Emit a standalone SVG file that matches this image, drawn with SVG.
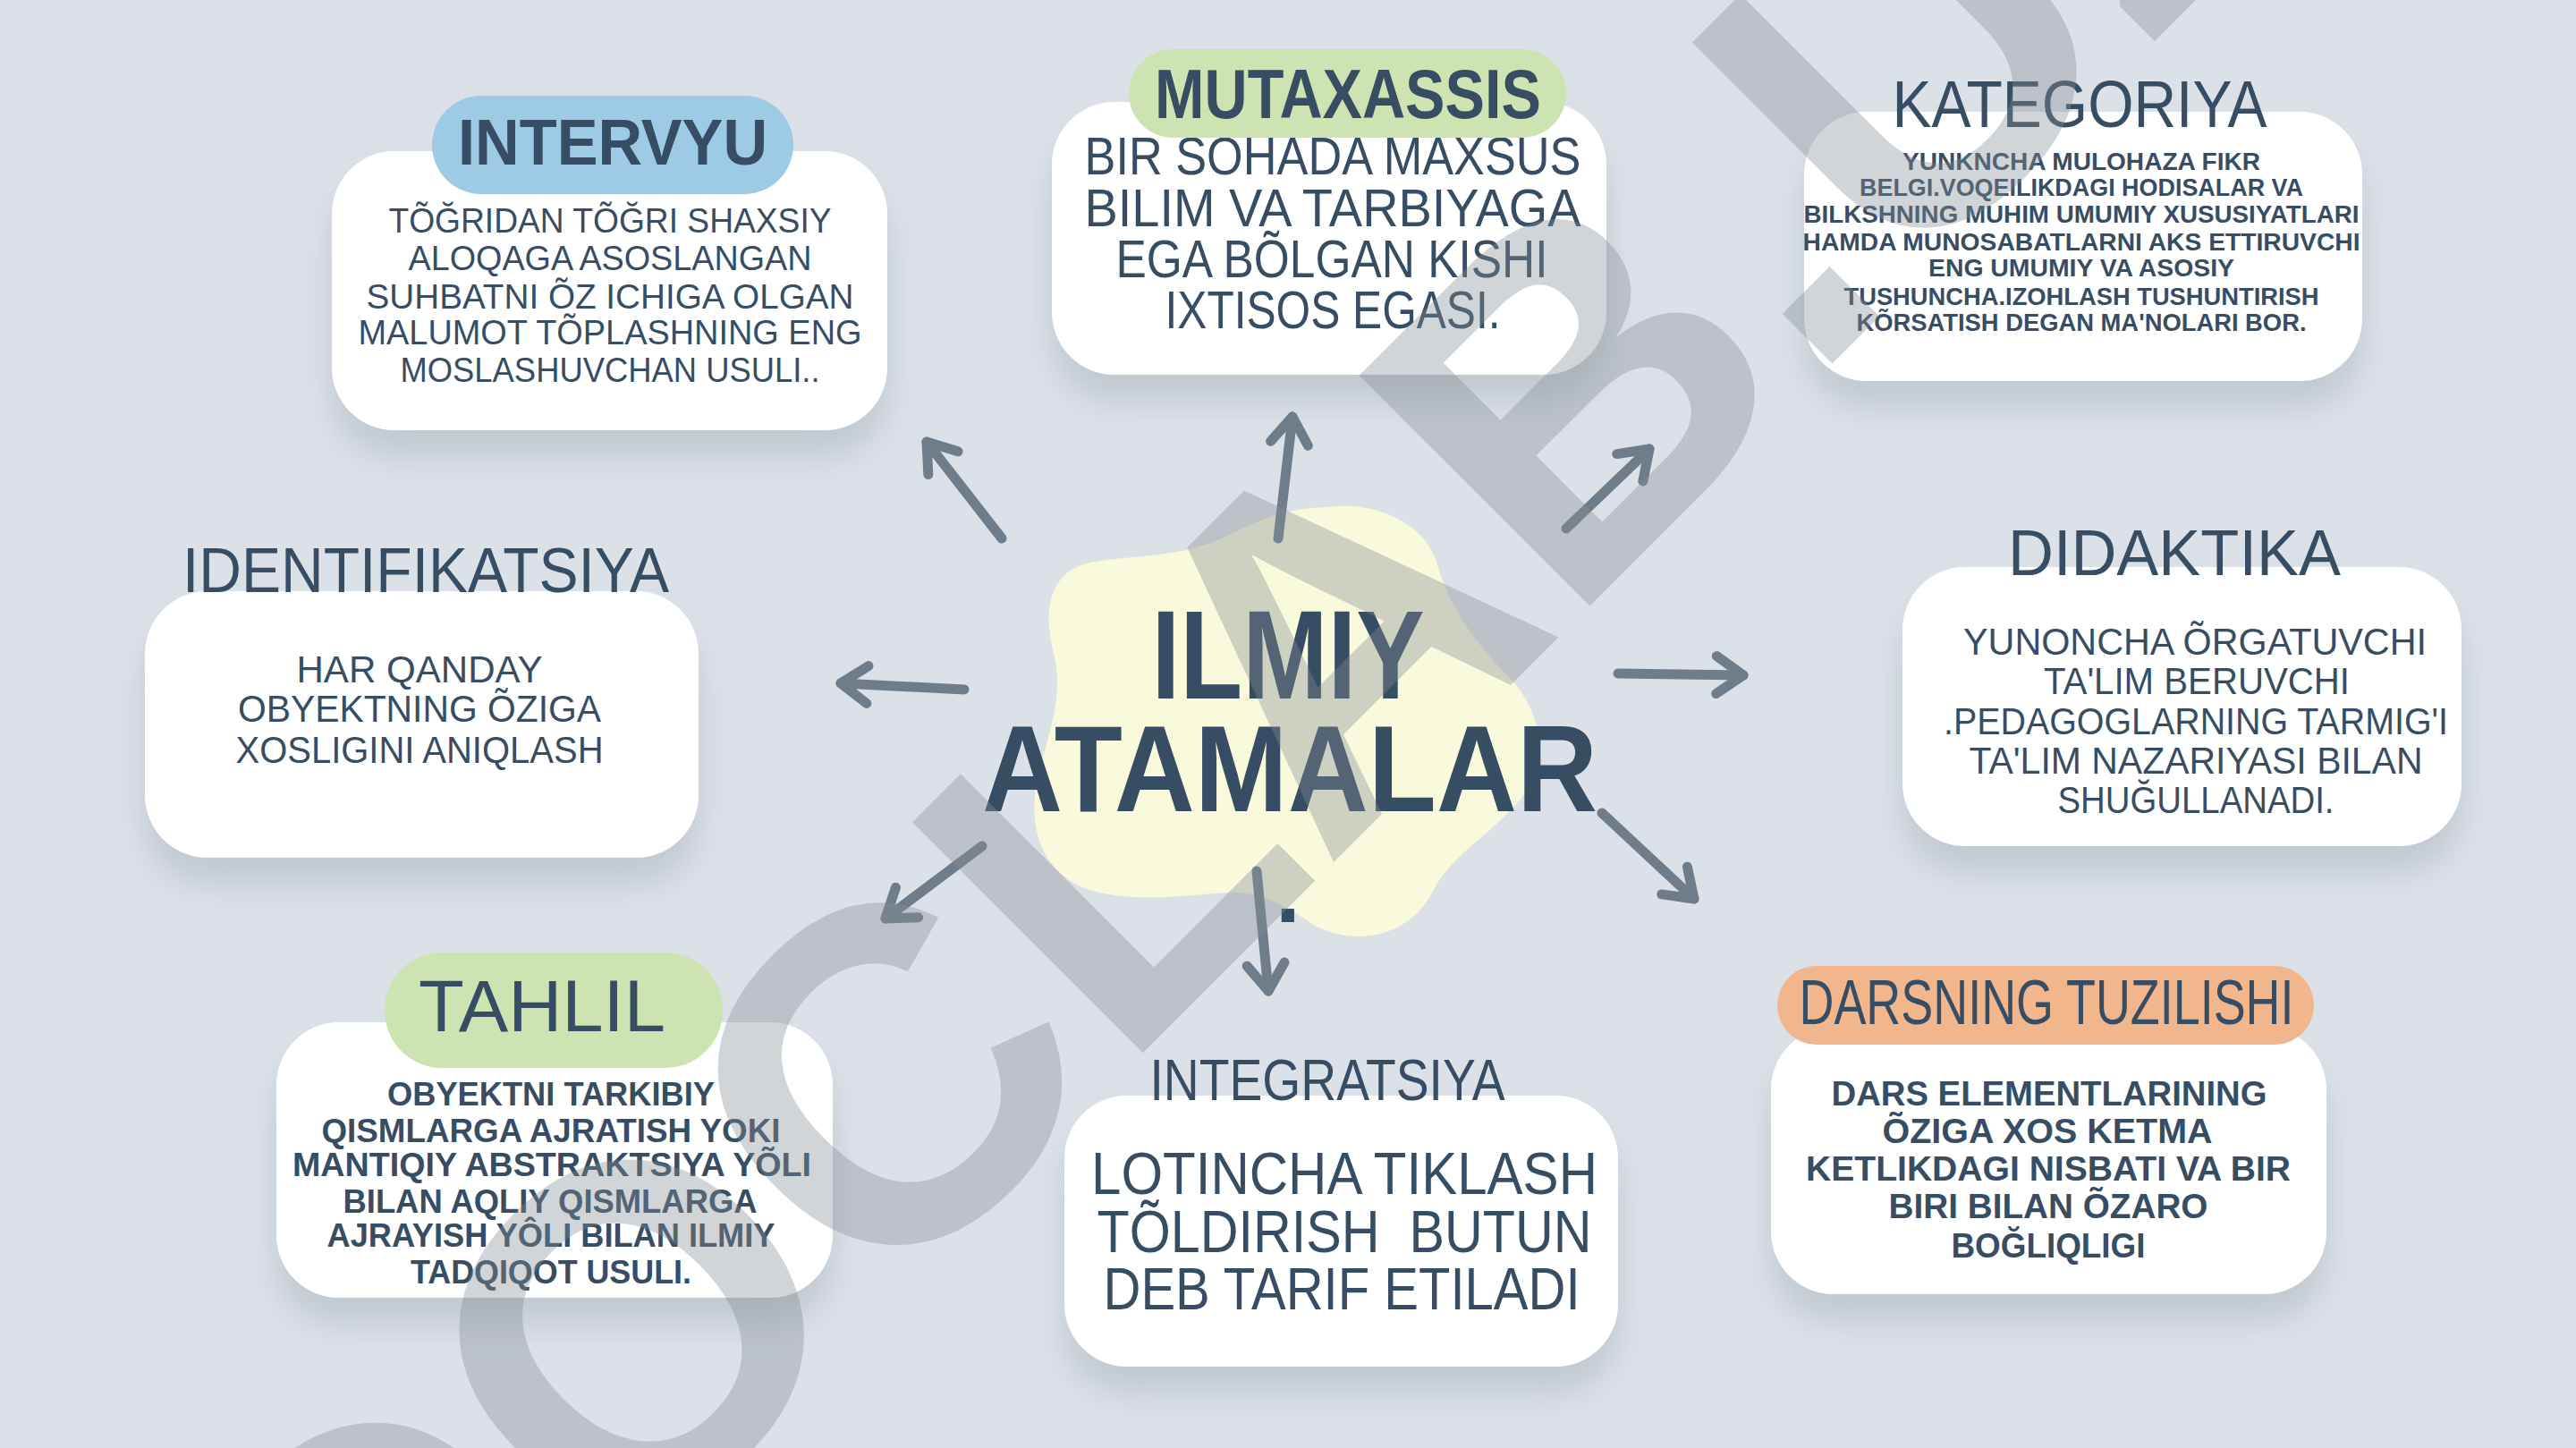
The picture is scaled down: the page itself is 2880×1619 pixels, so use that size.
<svg xmlns="http://www.w3.org/2000/svg" width="2880" height="1619" viewBox="0 0 2880 1619">
<defs>
<style>
.card{fill:#ffffff;filter:url(#sh)}
.t{font-family:"Liberation Sans",Arial,sans-serif;font-weight:normal;fill:#374d63;text-anchor:middle}
.b{font-family:"Liberation Sans",Arial,sans-serif;font-weight:bold;fill:#374d63;text-anchor:middle}
.arr{fill:none;stroke:#6f7d8b;stroke-width:11;stroke-linecap:round;marker-end:url(#ah)}
</style>
<filter id="sh" x="-20%" y="-20%" width="140%" height="170%">
<feDropShadow dx="0" dy="30" stdDeviation="18" flood-color="#7d8894" flood-opacity="0.28"/>
</filter>
<marker id="ah" viewBox="-40 -30 50 60" refX="0" refY="0" markerWidth="50" markerHeight="60" markerUnits="userSpaceOnUse" orient="auto" overflow="visible">
<path d="M-30,-21 L0,0 L-30,21" fill="none" stroke="#6f7d8b" stroke-width="11" stroke-linecap="round" stroke-linejoin="round"/>
</marker>
</defs>
<rect x="0" y="0" width="2880" height="1619" fill="#dce1e8"/>

<g id="center-blob">
<path d="M1484,567 C1540,560 1590,585 1605,625 C1620,680 1650,720 1690,760 C1735,810 1725,870 1690,905 C1650,945 1620,960 1600,1000 C1575,1045 1520,1060 1470,1035 C1440,1015 1410,995 1370,998 C1310,1003 1250,1010 1205,990 C1160,965 1150,920 1160,870 C1172,820 1190,780 1178,730 C1165,680 1175,640 1215,630 C1260,620 1320,625 1370,600 C1410,580 1440,568 1484,567 Z" fill="#f9f9dc"/>
</g>

<g id="connectors">
<path class="arr" d="M1120,602 L1036,494"/>
<path class="arr" d="M1429,602 L1445,466"/>
<path class="arr" d="M1751,591 L1844,502"/>
<path class="arr" d="M1078,771 L940,764"/>
<path class="arr" d="M1809,753 L1949,755"/>
<path class="arr" d="M1098,946 L990,1027"/>
<path class="arr" d="M1405,974 L1418,1108"/>
<path class="arr" d="M1791,909 L1894,1005"/>
</g>

<g id="center">
<text class="b" x="1440" y="781" font-size="141" textLength="305" lengthAdjust="spacingAndGlyphs">ILMIY</text>
<text class="b" x="1442" y="907" font-size="138" textLength="688" lengthAdjust="spacingAndGlyphs">ATAMALAR</text>
<text class="b" x="1440" y="1031" font-size="100">.</text>
</g>

<g id="intervyu">
<rect class="card" x="371" y="169" width="621" height="312" rx="70"/>
<text class="t" font-size="38" x="682" y="260" textLength="495" lengthAdjust="spacingAndGlyphs">TÕĞRIDAN TÕĞRI SHAXSIY</text>
<text class="t" font-size="38" x="682" y="302" textLength="451" lengthAdjust="spacingAndGlyphs">ALOQAGA ASOSLANGAN</text>
<text class="t" font-size="38" x="682" y="345" textLength="545" lengthAdjust="spacingAndGlyphs">SUHBATNI ÕZ ICHIGA OLGAN</text>
<text class="t" font-size="38" x="682" y="385" textLength="563" lengthAdjust="spacingAndGlyphs">MALUMOT TÕPLASHNING ENG</text>
<text class="t" font-size="38" x="682" y="427" textLength="469" lengthAdjust="spacingAndGlyphs">MOSLASHUVCHAN USULI..</text>
<rect x="483" y="107" width="404" height="110" rx="55" fill="#9dcbe6"/>
<text class="b" font-size="72" x="685" y="184" textLength="346" lengthAdjust="spacingAndGlyphs">INTERVYU</text>
</g>

<g id="mutaxassis">
<rect class="card" x="1176" y="114" width="620" height="305" rx="70"/>
<text class="t" font-size="60" x="1490" y="195" textLength="555" lengthAdjust="spacingAndGlyphs">BIR SOHADA MAXSUS</text>
<text class="t" font-size="60" x="1490" y="253" textLength="555" lengthAdjust="spacingAndGlyphs">BILIM VA TARBIYAGA</text>
<text class="t" font-size="60" x="1489" y="310" textLength="483" lengthAdjust="spacingAndGlyphs">EGA BÕLGAN KISHI</text>
<text class="t" font-size="60" x="1490" y="367" textLength="375" lengthAdjust="spacingAndGlyphs">IXTISOS EGASI.</text>
<rect x="1262" y="55" width="489" height="99" rx="50" fill="#cde4b2"/>
<text class="b" font-size="77" x="1507" y="132" textLength="432" lengthAdjust="spacingAndGlyphs">MUTAXASSIS</text>
</g>

<g id="kategoriya">
<rect class="card" x="2017" y="125" width="624" height="301" rx="70"/>
<text class="t" font-size="74" x="2325" y="142" textLength="419" lengthAdjust="spacingAndGlyphs">KATEGORIYA</text>
<text class="b" font-size="27" x="2327" y="190" textLength="400" lengthAdjust="spacingAndGlyphs">YUNKNCHA MULOHAZA FIKR</text>
<text class="b" font-size="27" x="2327" y="219" textLength="496" lengthAdjust="spacingAndGlyphs">BELGI.VOQEILIKDAGI HODISALAR VA</text>
<text class="b" font-size="27" x="2327" y="249" textLength="621" lengthAdjust="spacingAndGlyphs">BILKSHNING MUHIM UMUMIY XUSUSIYATLARI</text>
<text class="b" font-size="27" x="2327" y="280" textLength="623" lengthAdjust="spacingAndGlyphs">HAMDA MUNOSABATLARNI AKS ETTIRUVCHI</text>
<text class="b" font-size="27" x="2327" y="309" textLength="342" lengthAdjust="spacingAndGlyphs">ENG UMUMIY VA ASOSIY</text>
<text class="b" font-size="27" x="2327" y="341" textLength="531" lengthAdjust="spacingAndGlyphs">TUSHUNCHA.IZOHLASH TUSHUNTIRISH</text>
<text class="b" font-size="27" x="2327" y="370" textLength="503" lengthAdjust="spacingAndGlyphs">KÕRSATISH DEGAN MA'NOLARI BOR.</text>
</g>

<g id="identifikatsiya">
<rect class="card" x="162" y="661" width="619" height="298" rx="70"/>
<text class="t" font-size="70" x="476" y="662" textLength="544" lengthAdjust="spacingAndGlyphs">IDENTIFIKATSIYA</text>
<text class="t" font-size="43" x="469" y="763" textLength="275" lengthAdjust="spacingAndGlyphs">HAR QANDAY</text>
<text class="t" font-size="43" x="469" y="807" textLength="406" lengthAdjust="spacingAndGlyphs">OBYEKTNING ÕZIGA</text>
<text class="t" font-size="43" x="469" y="853" textLength="411" lengthAdjust="spacingAndGlyphs">XOSLIGINI ANIQLASH</text>
</g>

<g id="didaktika">
<rect class="card" x="2127" y="634" width="625" height="312" rx="70"/>
<text class="t" font-size="72" x="2431" y="643" textLength="372" lengthAdjust="spacingAndGlyphs">DIDAKTIKA</text>
<text class="t" font-size="43" x="2454" y="732" textLength="518" lengthAdjust="spacingAndGlyphs">YUNONCHA ÕRGATUVCHI</text>
<text class="t" font-size="43" x="2456" y="776" textLength="342" lengthAdjust="spacingAndGlyphs">TA'LIM BERUVCHI</text>
<text class="t" font-size="43" x="2455" y="821" textLength="564" lengthAdjust="spacingAndGlyphs">.PEDAGOGLARNING TARMIG'I</text>
<text class="t" font-size="43" x="2455" y="865" textLength="507" lengthAdjust="spacingAndGlyphs">TA'LIM NAZARIYASI BILAN</text>
<text class="t" font-size="43" x="2455" y="909" textLength="309" lengthAdjust="spacingAndGlyphs">SHUĞULLANADI.</text>
</g>

<g id="tahlil">
<rect class="card" x="309" y="1143" width="622" height="308" rx="70"/>
<text class="b" font-size="36" x="616" y="1236" textLength="366" lengthAdjust="spacingAndGlyphs">OBYEKTNI TARKIBIY</text>
<text class="b" font-size="36" x="616" y="1277" textLength="513" lengthAdjust="spacingAndGlyphs">QISMLARGA AJRATISH YOKI</text>
<text class="b" font-size="36" x="617" y="1315" textLength="580" lengthAdjust="spacingAndGlyphs">MANTIQIY ABSTRAKTSIYA YÕLI</text>
<text class="b" font-size="36" x="615" y="1356" textLength="463" lengthAdjust="spacingAndGlyphs">BILAN AQLIY QISMLARGA</text>
<text class="b" font-size="36" x="616" y="1394" textLength="501" lengthAdjust="spacingAndGlyphs">AJRAYISH YÔLI BILAN ILMIY</text>
<text class="b" font-size="36" x="616" y="1435" textLength="314" lengthAdjust="spacingAndGlyphs">TADQIQOT USULI.</text>
<rect x="430" y="1065" width="378" height="129" rx="64" fill="#cde4b2"/>
<text class="t" font-size="82" x="606" y="1153" textLength="276" lengthAdjust="spacingAndGlyphs">TAHLIL</text>
</g>

<g id="integratsiya">
<rect class="card" x="1190" y="1225" width="619" height="303" rx="70"/>
<text class="t" font-size="64" x="1484" y="1230" textLength="397" lengthAdjust="spacingAndGlyphs">INTEGRATSIYA</text>
<text class="t" font-size="67" x="1503" y="1335" textLength="566" lengthAdjust="spacingAndGlyphs">LOTINCHA TIKLASH</text>
<text class="t" font-size="67" x="1503" y="1400" textLength="553" lengthAdjust="spacingAndGlyphs" style="white-space:pre">TÕLDIRISH  BUTUN</text>
<text class="t" font-size="67" x="1500" y="1464" textLength="533" lengthAdjust="spacingAndGlyphs">DEB TARIF ETILADI</text>
</g>

<g id="darsning-tuzilishi">
<rect class="card" x="1980" y="1148" width="621" height="299" rx="70"/>
<text class="b" font-size="38" x="2291" y="1236" textLength="487" lengthAdjust="spacingAndGlyphs">DARS ELEMENTLARINING</text>
<text class="b" font-size="38" x="2289" y="1278" textLength="369" lengthAdjust="spacingAndGlyphs">ÕZIGA XOS KETMA</text>
<text class="b" font-size="38" x="2290" y="1320" textLength="542" lengthAdjust="spacingAndGlyphs">KETLIKDAGI NISBATI VA BIR</text>
<text class="b" font-size="38" x="2290" y="1362" textLength="357" lengthAdjust="spacingAndGlyphs">BIRI BILAN ÕZARO</text>
<text class="b" font-size="38" x="2290" y="1406" textLength="217" lengthAdjust="spacingAndGlyphs">BOĞLIQLIGI</text>
<rect x="1987" y="1080" width="600" height="88" rx="44" fill="#f2b68c"/>
<text class="t" font-size="70" x="2288" y="1145" textLength="553" lengthAdjust="spacingAndGlyphs">DARSNING TUZILISHI</text>
</g>

<g id="watermark">
<text x="420" y="2035" transform="rotate(-45 420 2035)" font-family="Liberation Sans, Arial, sans-serif" font-weight="bold" font-size="530" fill="#858c93" fill-opacity="0.37">DOCLAB.UZ</text>
</g>
</svg>
